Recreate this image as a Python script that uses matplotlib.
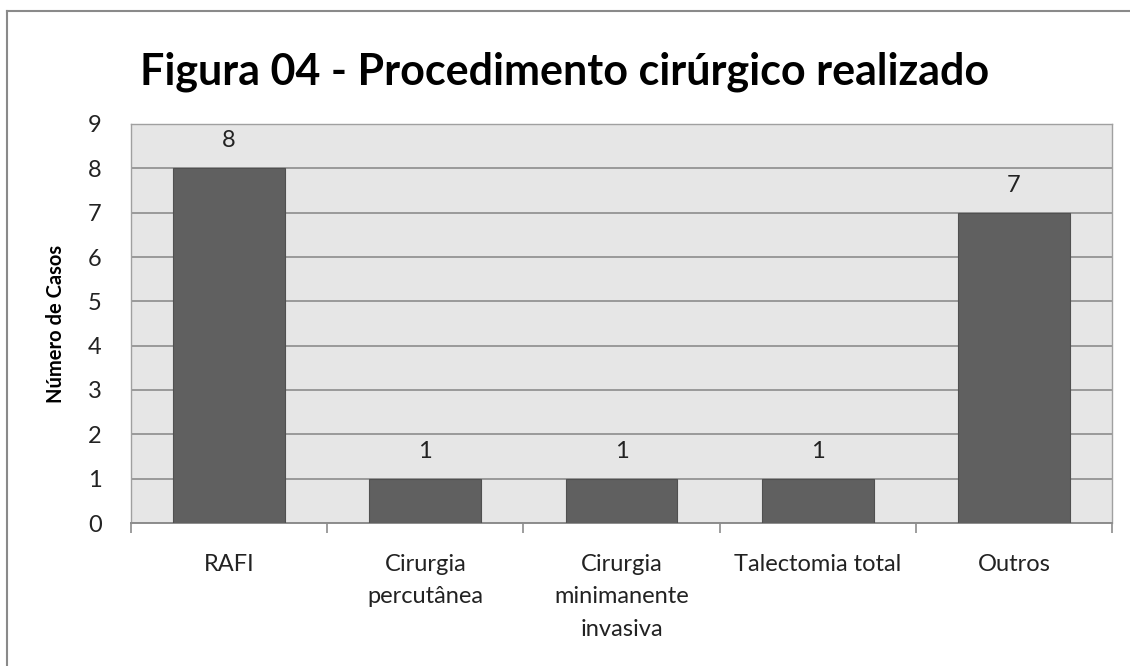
import matplotlib.pyplot as plt
from matplotlib.lines import Line2D

plt.rcParams['font.family'] = ['Lato', 'DejaVu Sans']

categorias = ['RAFI', 'Cirurgia\npercutânea', 'Cirurgia\nminimanente\ninvasiva',
              'Talectomia total', 'Outros']
casos = [8, 1, 1, 1, 7]
yticks = list(range(0, 10))

fig = plt.figure(figsize=(11.3, 6.66), dpi=100)
ax = fig.add_axes([131 / 1130, 1 - 523 / 666, 981 / 1130, 399 / 666])

ax.set_facecolor('#e6e6e6')
x = list(range(len(casos)))
ax.bar(x, casos, width=0.57, color='#606060', edgecolor='#505050', linewidth=0.8, zorder=3)
for xi, v in zip(x, casos):
    ax.text(xi, v + 0.62, str(v), ha='center', va='center', fontsize=17, color='#222222')

ax.set_xlim(-0.5, len(casos) - 0.5)
ax.set_ylim(0, 9)
ax.set_yticks(yticks)
ax.yaxis.grid(True, color='#8c8c8c', linewidth=1.2, zorder=1)
ax.set_axisbelow(True)

# ticks on x at category boundaries
ax.set_xticks([i - 0.5 for i in range(len(casos) + 1)])
ax.set_xticklabels([])
ax.set_xticks(x, minor=True)
ax.set_xticklabels(categorias, minor=True, fontsize=17, color='#222222', linespacing=1.68, va='top')
ax.tick_params(axis='x', which='major', length=7, color='#8c8c8c', width=1.2)
ax.tick_params(axis='x', which='minor', length=0, pad=22)
ax.tick_params(axis='y', length=0, labelsize=17, labelcolor='#222222', pad=21)

for s in ['top', 'right', 'left']:
    ax.spines[s].set_color('#a0a0a0')
    ax.spines[s].set_linewidth(1.0)
ax.spines['bottom'].set_color('#8c8c8c')
ax.spines['bottom'].set_linewidth(1.4)

ax.set_ylabel('Número de Casos', fontsize=14.5, fontweight='bold', labelpad=16)

fig.text(0.5, 1 - 72 / 666, 'Figura 04 - Procedimento cirúrgico realizado',
         ha='center', va='center', fontsize=31, fontweight='bold')

# outer frame (top and left only visible)
fig.add_artist(Line2D([7 / 1130, 7 / 1130], [0, 1 - 11 / 666], transform=fig.transFigure,
                      color='#8a8a8a', linewidth=1.5))
fig.add_artist(Line2D([7 / 1130, 1], [1 - 11 / 666, 1 - 11 / 666], transform=fig.transFigure,
                      color='#8a8a8a', linewidth=1.5))

fig.savefig('out.png', dpi=100, facecolor='white')
